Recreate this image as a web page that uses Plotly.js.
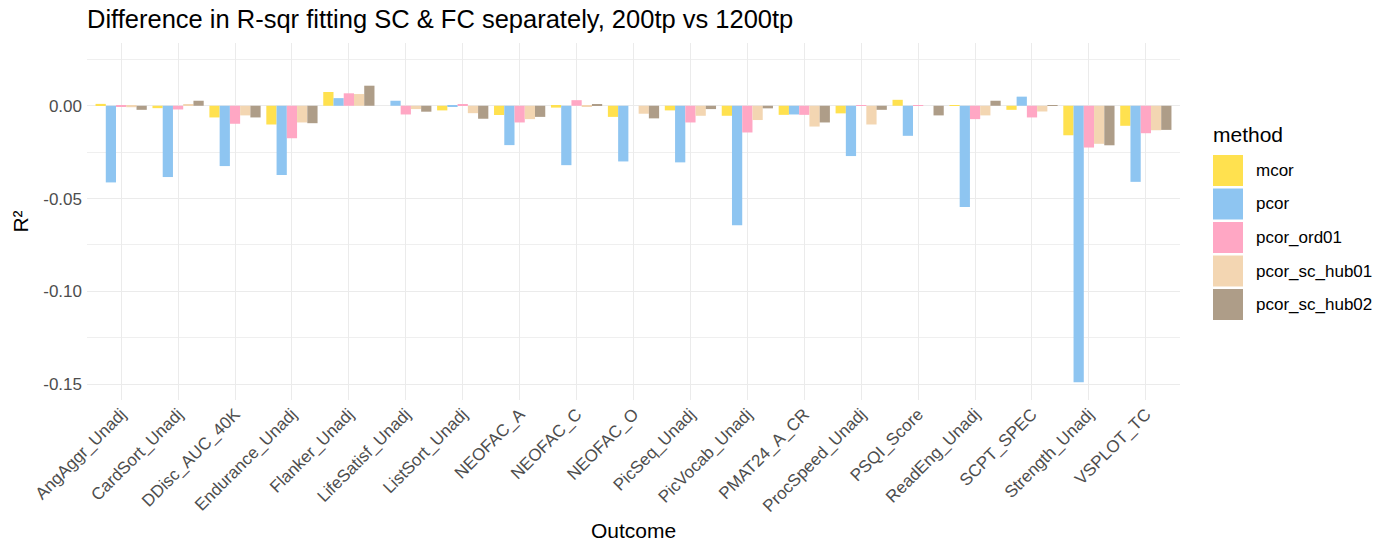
<!DOCTYPE html>
<html>
<head>
<meta charset="utf-8">
<script src="https://cdn.plot.ly/plotly-3.0.1.min.js"></script>
<style>
  html, body { margin: 0; padding: 0; background: #ffffff; }
  #chart { width: 1390px; height: 546px; }
</style>
</head>
<body>
<div id="chart"></div>
<script>
// Outcome measures on the x axis
const outcomes = [
  'AngAggr_Unadj', 'CardSort_Unadj', 'DDisc_AUC_40K', 'Endurance_Unadj',
  'Flanker_Unadj', 'LifeSatisf_Unadj', 'ListSort_Unadj', 'NEOFAC_A',
  'NEOFAC_C', 'NEOFAC_O', 'PicSeq_Unadj', 'PicVocab_Unadj', 'PMAT24_A_CR',
  'ProcSpeed_Unadj', 'PSQI_Score', 'ReadEng_Unadj', 'SCPT_SPEC',
  'Strength_Unadj', 'VSPLOT_TC'
];

// Difference in R² (200tp minus 1200tp) per connectivity method
const mcor = [0.0010, -0.0013, -0.0063, -0.0101, 0.0074, 0.0000, -0.0025, -0.0050, -0.0010, -0.0060,
              -0.0025, -0.0054, -0.0049, -0.0041, 0.0032, 0.0003, -0.0022, -0.0159, -0.0108];
const pcor = [-0.0413, -0.0384, -0.0325, -0.0373, 0.0041, 0.0027, -0.0003, -0.0212, -0.0320, -0.0300,
              -0.0305, -0.0644, -0.0047, -0.0271, -0.0162, -0.0545, 0.0049, -0.1490, -0.0410];
const pcor_ord01 = [-0.0004, -0.0020, -0.0097, -0.0175, 0.0067, -0.0047, 0.0006, -0.0090, 0.0030, 0.0000,
                    -0.0090, -0.0144, -0.0049, 0.0004, 0.0004, -0.0072, -0.0063, -0.0225, -0.0148];
const pcor_sc_hub01 = [-0.0008, 0.0005, -0.0052, -0.0090, 0.0063, -0.0018, -0.0040, -0.0072, -0.0003, -0.0043,
                       -0.0054, -0.0077, -0.0112, -0.0101, 0.0000, -0.0052, -0.0031, -0.0205, -0.0132];
const pcor_sc_hub02 = [-0.0022, 0.0027, -0.0063, -0.0094, 0.0108, -0.0032, -0.0070, -0.0060, 0.0005, -0.0068,
                       -0.0018, -0.0014, -0.0090, -0.0022, -0.0052, 0.0027, 0.0003, -0.0213, -0.0130];

const methodNames = ['mcor', 'pcor', 'pcor_ord01', 'pcor_sc_hub01', 'pcor_sc_hub02'];
const methodValues = [mcor, pcor, pcor_ord01, pcor_sc_hub01, pcor_sc_hub02];
const methodColors = ['#FFE14F', '#8EC5F1', '#FFA7C4', '#F3D6B2', '#AE9D88'];

const FONT = 'Liberation Sans, Arial, Helvetica, sans-serif';

// Plot area in pixels
const W = 1390, H = 546;
const M = { l: 87, r: 210, t: 43, b: 146 };
const plotW = W - M.l - M.r;
const plotH = H - M.t - M.b;
const px2x = px => (px - M.l) / plotW;
const px2y = py => (H - M.b - py) / plotH;

const traces = methodNames.map((name, i) => ({
  type: 'bar',
  name: name,
  x: outcomes,
  y: methodValues[i],
  marker: { color: methodColors[i], line: { width: 0 } },
  showlegend: false,
  hovertemplate: '%{x}<br>' + name + ': %{y:.4f}<extra></extra>'
}));

// Legend drawn with large square keys
const shapes = [];
const annotations = [];
annotations.push({
  xref: 'paper', yref: 'paper', x: px2x(1211), y: px2y(134),
  xanchor: 'left', yanchor: 'middle', showarrow: false,
  text: 'method', font: { family: FONT, size: 21, color: '#000000' }
});
methodNames.forEach((name, i) => {
  const top = 155 + i * 33.5;
  const bottom = top + 31;
  shapes.push({
    type: 'rect', xref: 'paper', yref: 'paper',
    x0: px2x(1213), x1: px2x(1243), y0: px2y(bottom), y1: px2y(top),
    fillcolor: methodColors[i], line: { width: 0 }, layer: 'above'
  });
  annotations.push({
    xref: 'paper', yref: 'paper', x: px2x(1254), y: px2y((top + bottom) / 2),
    xanchor: 'left', yanchor: 'middle', showarrow: false,
    text: name, font: { family: FONT, size: 17, color: '#000000' }
  });
});

const layout = {
  width: W, height: H,
  margin: M,
  paper_bgcolor: '#ffffff',
  plot_bgcolor: '#ffffff',
  font: { family: FONT, color: '#000000' },
  title: {
    text: 'Difference in R-sqr fitting SC &amp; FC separately, 200tp vs 1200tp',
    font: { family: FONT, size: 25.5, color: '#000000' },
    x: 87 / W, xanchor: 'left', xref: 'container',
    y: 1 - 19 / H, yanchor: 'middle', yref: 'container'
  },
  barmode: 'group',
  bargap: 0.1,
  bargroupgap: 0,
  xaxis: {
    type: 'category',
    range: [-0.6, outcomes.length - 0.4],
    showgrid: true, gridcolor: '#EBEBEB', gridwidth: 1.4,
    showline: false, zeroline: false, ticks: '',
    tickangle: -45,
    tickfont: { family: FONT, size: 17, color: '#4D4D4D' },
    title: { text: 'Outcome', font: { family: FONT, size: 21, color: '#000000' }, standoff: 8 },
    automargin: false
  },
  yaxis: {
    range: [-0.1585, 0.0338],
    tickvals: [-0.15, -0.10, -0.05, 0.00],
    ticktext: ['-0.15', '-0.10', '-0.05', '0.00'],
    showgrid: true, gridcolor: '#EBEBEB', gridwidth: 1.4,
    minor: { tickvals: [-0.125, -0.075, -0.025, 0.025], showgrid: true, gridcolor: '#EFEFEF', gridwidth: 0.8, ticks: '' },
    showline: false, zeroline: false, ticks: '',
    ticklabelstandoff: 4,
    tickfont: { family: FONT, size: 17, color: '#4D4D4D' },
    title: { text: 'R²', font: { family: FONT, size: 21, color: '#000000' }, standoff: 8 },
    automargin: false
  },
  shapes: shapes,
  annotations: annotations
};

Plotly.newPlot('chart', traces, layout, { displayModeBar: false, responsive: false });
</script>
</body>
</html>
